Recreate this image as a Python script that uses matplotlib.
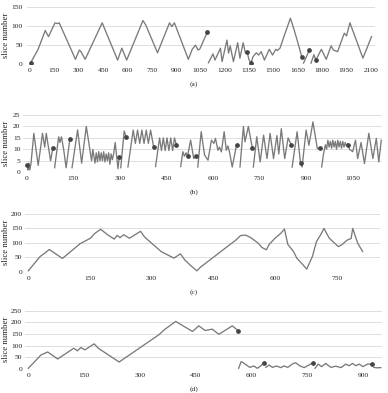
import numpy as np
import matplotlib
matplotlib.use('Agg')
import matplotlib.pyplot as plt

nan = np.nan

# (a) slice index over time, segments separated by nan
a_x = [4, 50, 94, 114, 154, 168, 180, 280, 304, 314, 340, 445, 540, 566, 596, 696, 714, 786,
       860, 874, 890, 976, 1000, 1020, 1036, 1047, 1094, nan,
       1100, 1128, 1140, 1174, 1184, 1214, 1224, 1234, 1254, 1280, 1294, 1314, 1328, 1338,
       1349, 1361, 1375, 1395, 1409, 1425, 1445, 1475, 1495, 1515, 1525, 1541, 1565, 1605,
       1625, 1652, 1676, nan,
       1686, 1722, nan,
       1732, 1750, 1762, 1796, 1826, 1856, 1870, 1896, 1937, 1951, 1972, 2052, 2105]
a_y = [4, 39, 88, 72, 108, 106, 108, 13, 37, 33, 13, 108, 11, 42, 11, 114, 102, 30,
       108, 98, 108, 13, 39, 50, 37, 40, 85, nan,
       4, 27, 11, 42, 7, 63, 29, 48, 7, 56, 16, 56, 29, 33,
       13, 3, 20, 30, 24, 33, 11, 39, 24, 39, 36, 42, 72, 120,
       94, 55, 18, nan,
       3, 37, nan,
       3, 25, 11, 39, 13, 48, 37, 33, 81, 74, 108, 16, 72]
a_mx = [4, 1094, 1338, 1361, 1676, 1722, 1762]
a_my = [4, 85, 33, 3, 18, 37, 11]

# (b)
b_x = [2, 4, 7, 10, 14, 23, 37, 51, 58, 63, 77, 84, nan,
       90, 103, 107, 112, 119, 127, 139, nan,
       146, 164, 177, 192, 209, 213, 220, 224, 228, 232, 236, 240, 244, 248, 252, 256, 260,
       264, 268, 272, 276, 280, 285, 294, 298, nan,
       303, 314, 320, nan,
       326, 343, 350, 357, 364, 371, 378, 385, 392, 399, 409, nan,
       415, 428, 434, 440, 446, 452, 458, 464, 470, 476, 482, nan,
       496, 503, 508, 513, 518, 528, 538, 544, nan,
       551, 562, 573, 584, 595, 603, 608, 616, 621, 627, 636, 643, 648, 653, 662, 676, nan,
       687, 698, 703, 714, 727, nan,
       730, 741, 752, 763, 774, 784, 795, 806, 812, 820, 831, 842, 852, nan,
       855, 871, 882, 887, 900, 909, 922, 936, 944, nan,
       950, 956, 962, 966, 970, 974, 978, 982, 986, 990, 994, 998, 1002, 1006, 1010, 1014,
       1018, 1022, 1026, 1030, 1034, 1040, 1050, 1059, 1066, 1077, 1088, 1102, 1115, 1126,
       1134, 1142]
b_y = [3, 1, 4, 1, 4, 17, 3, 17, 11, 17, 5, 10.5, nan,
       2, 15.5, 13, 15.5, 10, 2, 14.5, nan,
       2, 18.5, 4, 20, 5, 10, 4, 8.5, 4.5, 9, 5, 8.5, 5, 9, 4.5, 8, 5,
       8.5, 3.5, 8, 5.5, 8, 13, 1.6, 6.5, nan,
       2, 18, 15.5, nan,
       2.3, 18.4, 12.6, 18.4, 12.6, 18.4, 12.6, 18.4, 12.6, 18.4, 11, nan,
       2.5, 15, 9.5, 15, 9.5, 15, 9.5, 15, 9.5, 15, 12, nan,
       2.5, 9, 7, 8.5, 7, 14, 6, 7, nan,
       2.3, 17.7, 7.5, 5.3, 14, 12.6, 14.8, 9.6, 11, 8.9, 17.7, 9.6, 11.5, 9, 2.3, 12, nan,
       2.3, 20, 13.3, 20, 10.4, nan,
       2.3, 15.5, 4.5, 16.2, 6, 17, 6, 16, 8, 19, 6, 15, 12, nan,
       2.3, 17.7, 4, 2.3, 18.4, 11.8, 22, 10.4, 10.4, nan,
       2.3, 8, 12, 10, 14, 11, 13.5, 10.5, 14, 11, 13.5, 10, 14, 11, 13.5, 10.5,
       13.5, 11, 13, 11.5, 12.5, 10, 9, 14, 6, 13, 3.8, 17, 6, 14.8,
       4.5, 14]
b_mx = [2, 84, 139, 298, 320, 409, 482, 518, 544, 676, 727, 852, 882, 944, 1034]
b_my = [3, 10.5, 14.5, 6.5, 15.5, 11, 12, 7, 7, 12, 10.4, 12, 4, 10.4, 12]

# (c)
c_x = [0, 29, 41, 51, 83, 126, 151, 162, 176, 193, 209, 216, 223, 232, 246, 273, 283, 323,
       354, 370, 381, 396, 410, 419, 505, 516, 528, 540, 559, 568, 579, 586, 600, 614, 623,
       631, 645, 653, 668, 677, 691, 701, 711, 719, 732, 754, 762, 776, 785, 789, 801, 813]
c_y = [3, 53, 65, 77, 46, 97, 116, 133, 147, 128, 113, 126, 118, 128, 116, 140, 120, 70,
       47, 62, 40, 20, 3, 16, 110, 125, 127, 119, 99, 84, 76, 95, 116, 133, 148,
       95, 70, 47, 24, 9, 53, 105, 128, 150, 116, 87, 93, 110, 115, 150, 99, 70]

# (d)
d_x = [0, 34, 52, 79, 122, 132, 141, 152, 177, 188, 244, 351, 365, 396, 441, 458, 475, 494,
       512, 548, 564, nan,
       565, 572, 580, 595, 606, 615, 624, 634, nan,
       638, 647, 656, 667, 678, 687, 697, 709, 718, 730, 741, 754, 765, nan,
       770, 779, 788, 799, 813, 826, 840, 853, 862, 871, 880, 889, 899, 911, 923, nan,
       928, 936, 947]
d_y = [3, 60, 73, 43, 89, 78, 92, 82, 108, 89, 30, 147, 168, 204, 161, 185, 165, 171,
       149, 185, 164, nan,
       3, 32, 24, 7, 13, 3, 13, 27, nan,
       7, 17, 7, 13, 6, 13, 7, 21, 27, 13, 6, 17, 27, nan,
       3, 21, 10, 24, 7, 12, 6, 21, 14, 24, 14, 21, 10, 21, 21, nan,
       7, 5, 6]
d_mx = [564, 634, 765, 923]
d_my = [164, 27, 27, 21]

plt.rcParams['font.family'] = ['Liberation Serif', 'DejaVu Serif']

W, H = 388, 393
fig = plt.figure(figsize=(W / 100, H / 100), dpi=100)

LINE = '#7a7a7a'
MARK = '#444444'
GRID = '#d9d9d9'
TEXT = '#222222'


def panel(px_left, px_right, px_top, px_bottom, xlim, ylim, xstep, ystep,
          x, y, mx, my, caption, cap_y, ypad):
    ax = fig.add_axes([px_left / W, 1 - px_bottom / H,
                       (px_right - px_left) / W, (px_bottom - px_top) / H])
    ax.plot(x, y, color=LINE, lw=0.95, zorder=3)
    if mx:
        ax.plot(mx, my, 'o', color=MARK, ms=2.4, zorder=4)
    ax.set_xlim(*xlim)
    ax.set_ylim(*ylim)
    ax.set_xticks(np.arange(0, xlim[1], xstep))
    ax.set_yticks(np.arange(0, ylim[1] + 0.1, ystep))
    ax.yaxis.grid(True, color=GRID, lw=0.6)
    ax.set_axisbelow(True)
    for s in ax.spines.values():
        s.set_visible(False)
    ax.tick_params(length=0, labelsize=5.4, labelcolor=TEXT)
    ax.tick_params(axis='x', pad=2.8)
    ax.tick_params(axis='y', pad=ypad)
    fig.text(6 / W, 1 - (px_top + px_bottom) / 2 / H, 'slice number', rotation=90,
             ha='center', va='center', fontsize=6.3, color=TEXT)
    fig.text(194 / W, 1 - cap_y / H, caption, ha='center', va='center',
             fontsize=5.4, color=TEXT)
    return ax


panel(27, 375, 6.7, 64.3, (-18.5, 2126.5), (0, 150), 150, 50,
      a_x, a_y, a_mx, a_my, '(a)', 84, 3.2)
panel(23, 382, 115, 172.3, (-11.9, 1144.4), (0, 25), 150, 5,
      b_x, b_y, b_mx, b_my, '(b)', 192, 1.8)
panel(25, 380, 214, 271.7, (-8, 855.3), (0, 200), 150, 50,
      c_x, c_y, [], [], '(c)', 292, 2.0)
panel(25, 382, 310.7, 369, (-8.9, 950.2), (0, 250), 150, 50,
      d_x, d_y, d_mx, d_my, '(d)', 389, 2.0)

fig.savefig('out.png', dpi=100, facecolor='white')
plt.close(fig)
